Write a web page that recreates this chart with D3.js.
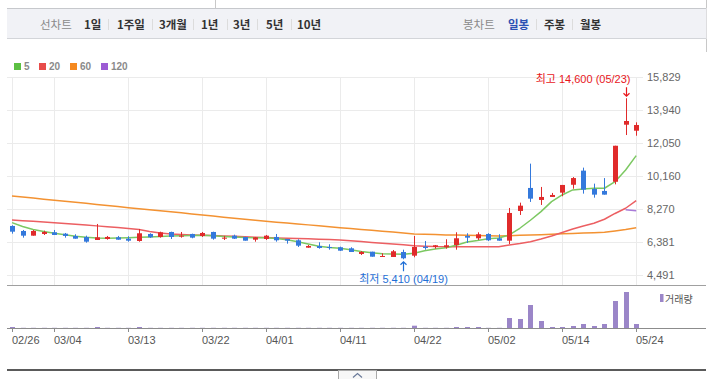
<!DOCTYPE html>
<html><head><meta charset="utf-8">
<script src="https://cdn.jsdelivr.net/npm/d3@7/dist/d3.min.js"></script>
<style>body{margin:0;background:#fff;}svg{display:block;}</style>
</head><body><svg id="c" width="709" height="379"></svg>
<script>
const dates = ["02/26","02/27","02/28","02/29","03/04","03/05","03/06","03/07","03/08","03/11","03/12","03/13","03/14","03/15","03/18","03/19","03/20","03/21","03/22","03/25","03/26","03/27","03/28","03/29","04/01","04/02","04/03","04/04","04/05","04/08","04/09","04/11","04/12","04/15","04/16","04/17","04/18","04/19","04/22","04/23","04/24","04/25","04/26","04/29","04/30","05/02","05/03","05/07","05/08","05/09","05/10","05/13","05/14","05/16","05/17","05/20","05/21","05/22","05/23","05/24"];
const open  = [7312,7026,6758,6855,6952,6872,6741,6684,6512,6569,6666,6587,6455,6855,6684,6969,6701,6855,6741,6969,6587,6758,6684,6529,6569,6684,6569,6495,6073,6170,6113,6096,6038,5713,5844,5542,5542,5827,5616,6130,6113,6096,6227,6741,6609,6855,6609,6472,8168,9481,8796,8967,9213,9663,10469,9424,9310,9834,13090,12747];
const high  = [7352,7083,7083,7043,7083,6912,6838,6758,7426,6741,6741,6724,7140,6895,6986,6986,6969,6872,6969,6986,6741,6815,6684,6684,6798,6855,6569,6552,6227,6381,6267,6130,6096,5884,5844,5753,5941,5959,6741,6455,6227,6552,6952,6895,6952,6895,6838,8339,8642,10868,9538,9196,9652,10102,10640,9727,10045,11889,14600,13226];
const low   = [6872,6644,6758,6798,6798,6644,6587,6358,6512,6529,6529,6415,6415,6626,6644,6569,6644,6609,6684,6529,6512,6569,6472,6415,6512,6415,6301,6113,6073,6016,5959,5884,5827,5656,5559,5542,5542,5410,5525,5959,6016,6016,5959,6341,6512,6455,6472,6284,7940,8682,8510,8967,9007,9435,9156,8927,9099,9686,12500,12461];
const close = [6986,6758,7026,6969,6798,6741,6587,6415,6666,6684,6529,6472,6895,6666,6952,6684,6758,6644,6912,6587,6644,6587,6472,6666,6758,6495,6472,6187,6170,6056,6056,5901,5827,5827,5559,5599,5867,5468,6113,6056,6210,6210,6609,6644,6838,6495,6472,8054,8470,8870,8967,9081,9652,10045,9384,9099,9099,11889,13301,13072];
const volume = [100000,20000,20000,20000,20000,20000,20000,20000,100000,20000,20000,20000,100000,20000,20000,20000,20000,20000,20000,20000,20000,20000,20000,20000,20000,20000,20000,20000,20000,20000,20000,20000,20000,20000,20000,20000,20000,20000,230000,20000,20000,20000,100000,100000,100000,20000,20000,1000000,900000,2300000,700000,100000,100000,200000,400000,200000,400000,2700000,3600000,400000];
const ma5   = [7500,7283,7112,6998,6895,6809,6724,6666,6626,6615,6626,6644,6666,6684,6712,6741,6758,6769,6781,6752,6712,6684,6655,6644,6644,6598,6524,6415,6284,6153,6084,6038,5953,5856,5787,5730,5707,5696,5753,5901,5998,6073,6215,6398,6484,6587,6626,6798,7180,7637,8128,8699,9081,9367,9424,9464,9464,9841,10509,11325];
const ma20  = [7654,7614,7574,7534,7494,7454,7409,7363,7317,7272,7220,7169,7112,6998,6912,6855,6826,6798,6781,6764,6741,6718,6695,6672,6649,6632,6615,6598,6581,6558,6535,6512,6467,6421,6375,6330,6284,6238,6187,6158,6136,6130,6130,6130,6130,6130,6130,6227,6312,6415,6569,6741,6940,7140,7312,7466,7694,8025,8322,8756];
const ma60  = [9024,8961,8904,8842,8779,8722,8659,8602,8539,8476,8419,8356,8299,8236,8179,8117,8059,7997,7934,7877,7814,7751,7694,7637,7580,7529,7477,7426,7374,7323,7266,7215,7163,7117,7066,7015,6963,6912,6855,6838,6821,6803,6792,6781,6769,6758,6746,6758,6775,6792,6815,6838,6861,6883,6906,6929,6952,7026,7112,7215];
const ma120 = [null,null,null,null,null,null,null,null,null,null,null,null,null,null,null,null,null,null,null,null,null,null,null,null,null,null,null,null,null,null,null,null,null,null,null,null,null,null,null,null,null,null,null,null,null,null,null,null,null,null,null,null,null,null,null,null,null,null,8242,8185];
const yTicks = [4491,6381,8270,10160,12050,13940,15829];
const xTickDates = ["02/26","03/04","03/13","03/22","04/01","04/11","04/22","05/02","05/14","05/24"];
const lineTabs = ["1일","1주일","3개월","1년","3년","5년","10년"];
const candleTabs = ["일봉","주봉","월봉"];
const maNames = ["5","20","60","120"];
const maColors = ["#5cc043","#e84c4a","#f5891f","#9c5bd4"];
const maLineColors = ["#7cc862","#ec5f62","#f39232","#a87ad8"];

const svg = d3.select("#c");
const FONT = "'Liberation Sans','Noto Sans CJK KR',sans-serif";
const KFONT = "'Noto Sans CJK KR',sans-serif";

// ---- top tab bar ----
svg.append("line").attr("x1",215.5).attr("x2",215.5).attr("y1",0).attr("y2",8).attr("stroke","#c8c8c8");
svg.append("line").attr("x1",706.5).attr("x2",706.5).attr("y1",0).attr("y2",52).attr("stroke","#c8c8c8");
svg.append("rect").attr("x",7).attr("y",8).attr("width",699.5).attr("height",31).attr("fill","#f1f2f6");
svg.append("line").attr("x1",7).attr("x2",706).attr("y1",8.5).attr("y2",8.5).attr("stroke","#c6c8cc");
svg.append("line").attr("x1",7).attr("x2",706).attr("y1",38.5).attr("y2",38.5).attr("stroke","#d3d5d9");

const tabG = svg.append("g").attr("font-family",KFONT).attr("font-size",11.5);
tabG.append("text").attr("x",40).attr("y",24).attr("dominant-baseline","central").attr("fill","#8a8a8a").text("선차트");
const ltX = [84,117,159,201,233,266,297];
lineTabs.forEach((t,i)=>{
  tabG.append("text").attr("x",ltX[i]).attr("y",24).attr("dominant-baseline","central").attr("font-weight","bold").attr("fill","#333").text(t);
  if(i<lineTabs.length-1){
    const sx = [108,152,193,227,257,291][i];
    tabG.append("line").attr("x1",sx+0.5).attr("x2",sx+0.5).attr("y1",19).attr("y2",30).attr("stroke","#dcdcdc");
  }
});
tabG.append("text").attr("x",463).attr("y",24).attr("dominant-baseline","central").attr("fill","#8a8a8a").text("봉차트");
const ctX = [508,544,580];
candleTabs.forEach((t,i)=>{
  tabG.append("text").attr("x",ctX[i]).attr("y",24).attr("dominant-baseline","central").attr("font-weight","bold").attr("fill",i===0?"#2b51b3":"#333").text(t);
  if(i<candleTabs.length-1){
    const sx=[536,572][i];
    tabG.append("line").attr("x1",sx+0.5).attr("x2",sx+0.5).attr("y1",19).attr("y2",30).attr("stroke","#dcdcdc");
  }
});

// ---- legend ----
const legX = [14,39,70,101];
maNames.forEach((n,i)=>{
  svg.append("rect").attr("x",legX[i]).attr("y",63).attr("width",7).attr("height",7).attr("fill",maColors[i]);
  svg.append("text").attr("x",legX[i]+10).attr("y",66.8).attr("dominant-baseline","central")
    .attr("font-family",FONT).attr("font-size",10).attr("font-weight","bold").attr("fill","#8a8a8a").text(n);
});

// ---- scales ----
const x = d3.scalePoint().domain(dates).range([12,636.2]);
const y = d3.scaleLinear().domain([4491,15829]).range([275.4,76.7]);
const yv = d3.scaleLinear().domain([0,4300000]).range([328,285]);

// grid
const grid = svg.append("g");
yTicks.forEach(t=>{
  const yy = Math.round(y(t))+0.5;
  grid.append("line").attr("x1",7).attr("x2",643).attr("y1",yy).attr("y2",yy).attr("stroke","#ebebeb");
});
xTickDates.forEach(d=>{
  const xx = Math.round(x(d))+0.5;
  grid.append("line").attr("x1",xx).attr("x2",xx).attr("y1",Math.round(y(15829))).attr("y2",285).attr("stroke","#ebebeb");
});
// y labels
const yAxis = d3.axisRight(y).tickValues(yTicks).tickSize(0).tickPadding(0).tickFormat(d3.format(","));
const yg = svg.append("g").attr("transform","translate(647,0)").call(yAxis);
yg.select(".domain").remove();
yg.selectAll("text").attr("font-family",FONT).attr("font-size",11).attr("fill","#666").attr("x",0);

// ---- MA lines ----
const mas = [ma60, ma20, ma5, ma120];
const maCols = [maLineColors[2], maLineColors[1], maLineColors[0], maLineColors[3]];
mas.forEach((arr,k)=>{
  const line = d3.line().defined(d=>d!=null).x((d,i)=>x(dates[i])).y(d=>y(d));
  svg.append("path").datum(arr).attr("d",line).attr("fill","none").attr("stroke",maCols[k]).attr("stroke-width",1.5).attr("stroke-linejoin","round");
});

// ---- candles ----
const up = "#e02b2b", down = "#3479dc";
const cg = svg.append("g");
dates.forEach((d,i)=>{
  const cx = Math.round(x(d));
  const col = close[i] >= open[i] ? up : down;
  cg.append("line").attr("x1",cx+0.5).attr("x2",cx+0.5).attr("y1",y(high[i])).attr("y2",y(low[i])).attr("stroke",col).attr("stroke-width",1);
  const top = y(Math.max(open[i],close[i])), bot = y(Math.min(open[i],close[i]));
  cg.append("rect").attr("x",cx-2).attr("y",top).attr("width",5).attr("height",Math.max(1,bot-top)).attr("fill",col);
});

// ---- annotations ----
const hiIdx = high.indexOf(d3.max(high)), loIdx = low.indexOf(d3.min(low));
const hx = Math.round(x(dates[hiIdx]))+0.5, lx = Math.round(x(dates[loIdx]))+0.5;
svg.append("text").attr("x",hx+4).attr("y",78.5).attr("dominant-baseline","central").attr("text-anchor","end")
  .attr("font-family",FONT).attr("font-size",11).attr("fill","#e8161c")
  .text("최고 "+d3.format(",")(high[hiIdx])+" ("+dates[hiIdx]+")");
const hy = y(high[hiIdx]);
svg.append("path").attr("d",`M${hx},${hy-11}V${hy-2}M${hx-3},${hy-5}L${hx},${hy-2}L${hx+3},${hy-5}`).attr("fill","none").attr("stroke","#e8161c").attr("stroke-width",1.2);
const ly = y(low[loIdx]);
svg.append("path").attr("d",`M${lx},${ly+12}V${ly+2.5}M${lx-3},${ly+5.5}L${lx},${ly+2.5}L${lx+3},${ly+5.5}`).attr("fill","none").attr("stroke","#1f6fd6").attr("stroke-width",1.2);
svg.append("text").attr("x",lx).attr("y",278.5).attr("dominant-baseline","central").attr("text-anchor","middle")
  .attr("font-family",FONT).attr("font-size",11).attr("fill","#1f6fd6")
  .text("최저 "+d3.format(",")(low[loIdx])+" ("+dates[loIdx]+")");

// ---- volume ----
svg.append("line").attr("x1",7).attr("x2",706).attr("y1",285.5).attr("y2",285.5).attr("stroke","#a0a0a0");
const vg = svg.append("g");
dates.forEach((d,i)=>{
  const cx = Math.round(x(d));
  vg.append("rect").attr("x",cx-2).attr("y",yv(volume[i])).attr("width",5).attr("height",328-yv(volume[i])).attr("fill","#9b86c8");
});
svg.append("line").attr("x1",7).attr("x2",706).attr("y1",328.5).attr("y2",328.5).attr("stroke","#8c8c8c");
svg.append("rect").attr("x",660).attr("y",294).attr("width",3.5).attr("height",8).attr("fill","#9b86c8");
svg.append("text").attr("x",665).attr("y",298).attr("dominant-baseline","central").attr("font-family",KFONT).attr("font-size",10).attr("fill","#555").text("거래량");

// x axis
const xAxis = d3.axisBottom(x).tickValues(xTickDates).tickSize(4).tickPadding(4);
const xg = svg.append("g").attr("transform","translate(0.5,328)").call(xAxis);
xg.select(".domain").remove();
xg.selectAll(".tick line").attr("stroke","#8c8c8c");
xg.selectAll(".tick").attr("transform",d=>`translate(${Math.round(x(d))},0)`);
xg.selectAll("text").attr("font-family",FONT).attr("font-size",11).attr("fill","#555").attr("text-anchor","start").attr("x",-0.5).attr("y",8).attr("dy","0.71em");

// bottom bar
svg.append("rect").attr("x",7).attr("y",369).attr("width",699).attr("height",2).attr("fill","#5a5a5a");
svg.append("rect").attr("x",338.5).attr("y",370.5).attr("width",38).attr("height",12).attr("fill","#f7f7f7").attr("stroke","#a8a8a8");
svg.append("path").attr("d","M353,377.5L357.5,373.5L362,377.5").attr("fill","none").attr("stroke","#6a7a99").attr("stroke-width",1.2);
</script></body></html>
